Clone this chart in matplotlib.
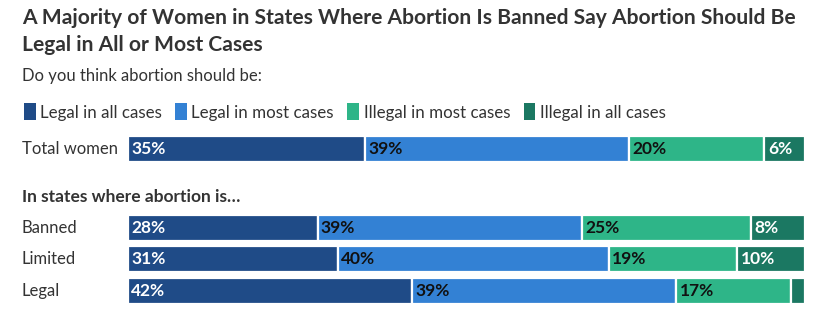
import matplotlib.pyplot as plt
from matplotlib.patches import Patch

plt.rcParams['font.family'] = ['Lato', 'DejaVu Sans']

# data
rows = ['Total women', 'Banned', 'Limited', 'Legal']
row_pos = [0, 2.5, 3.5, 4.5]
series = ['Legal in all cases', 'Legal in most cases', 'Illegal in most cases', 'Illegal in all cases']
legal_all = [35, 28, 31, 42]
legal_most = [39, 39, 40, 39]
illegal_most = [20, 25, 19, 17]
illegal_all = [6, 8, 10, 2]

colors = ['#1f4b87', '#3381d4', '#2eb588', '#1b7862']
label_colors = ['white', '#111111', '#111111', 'white']
text_col = '#333333'

W, H = 840, 336
fig = plt.figure(figsize=(8.4, 3.36), dpi=100)

# axes from pixel box: x 128..805, y 130..310
ax = fig.add_axes([128 / W, (H - 310) / H, (805 - 128) / W, 180 / H])
ax.set_xlim(0, 100)
ax.set_ylim(5.111, -0.603)
ax.axis('off')

left = [0, 0, 0, 0]
for vals, c, lc in zip([legal_all, legal_most, illegal_most, illegal_all], colors, label_colors):
    ax.barh(row_pos, vals, left=left, height=0.83, color=c, edgecolor='white', linewidth=1.6)
    for y, v, l in zip(row_pos, vals, left):
        if v >= 5:
            ax.text(l + 0.5, y, f'{v}%', ha='left', va='center', color=lc,
                    fontsize=12.5, fontweight='bold')
    left = [a + b for a, b in zip(left, vals)]

# row labels
x_lab = -106 / 6.77
for r, y in zip(rows, row_pos):
    ax.text(x_lab, y, r, ha='left', va='center', color=text_col, fontsize=12)

ax.text(x_lab, 1.52, 'In states where abortion is\u2026', ha='left', va='center',
        color=text_col, fontsize=12.5, fontweight='bold')

fig.text(22 / W, 1 - 8 / H, 'A Majority of Women in States Where Abortion Is Banned Say Abortion Should Be\nLegal in All or Most Cases',
         ha='left', va='top', fontsize=15.1, fontweight='bold', color=text_col, linespacing=1.45)
fig.text(22 / W, 1 - 76 / H, 'Do you think abortion should be:', ha='left', va='center',
         fontsize=12, color=text_col)

handles = [Patch(facecolor=c, edgecolor='none') for c in colors]
fig.legend(handles, series, loc='center left', bbox_to_anchor=(17 / W, 1 - 112 / H), ncol=4,
           frameon=False, handlelength=0.7, handleheight=1.15, handletextpad=0.25,
           columnspacing=0.8, prop={'size': 12.2}, labelcolor=text_col, borderaxespad=0)

fig.savefig('out.png', dpi=100, facecolor='white')
